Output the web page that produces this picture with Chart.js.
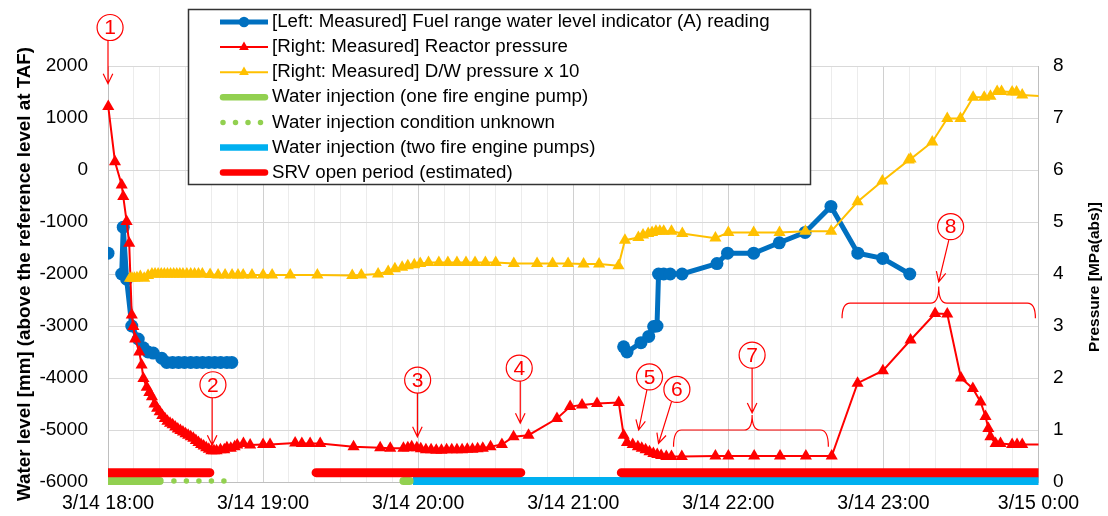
<!DOCTYPE html>
<html>
<head>
<meta charset="utf-8">
<script src="https://cdn.jsdelivr.net/npm/chart.js@4.4.1/dist/chart.umd.min.js"></script>
<style>
  html, body { margin: 0; padding: 0; background: #fff; }
  #chart { display: block; }
</style>
</head>
<body>
<canvas id="chart" width="1108" height="516"></canvas>
<script>
// x values are minutes after 3/14 18:00
const xTickLabels = ['3/14 18:00', '3/14 19:00', '3/14 20:00', '3/14 21:00', '3/14 22:00', '3/14 23:00', '3/15 0:00']

// [Left] fuel range water level indicator (A) [mm], null = no reading
const waterLevel = [
  [0, -1600], [3, null],
  [5.3, -2000], [5.9, -1100], [7.2, -2100], [9.2, -3000], [11.7, -3250], [13.7, -3420],
  [15.5, -3500], [17.5, -3520], [20.8, -3620], [22.7, -3700], [25, -3700], [27.3, -3700],
  [29.6, -3700], [32, -3700], [34.3, -3700], [36.6, -3700], [39, -3700], [41.3, -3700],
  [43.6, -3700], [46, -3700], [47.9, -3700], [60, null],
  [199.5, -3400], [200.8, -3500], [206.2, -3320], [209.2, -3200], [211.1, -3010], [212.4, -3000],
  [213, -2000], [215, -2000], [217.5, -2000], [222.1, -2000], [235.6, -1800], [239.7, -1600],
  [249.8, -1600], [259.7, -1400], [269.7, -1200], [279.7, -700], [290.1, -1600], [299.7, -1700],
  [310.2, -2000]
]

// [Right] reactor pressure [MPa(abs)]
const reactorPressure = [
  [0.1, 7.22], [2.7, 6.16], [5.3, 5.71], [5.9, 5.49], [7.2, 5.01], [8.2, 4.59], [9.2, 3.21],
  [9.8, 2.99], [10.5, 2.75], [12.1, 2.5], [13, 2.25], [13.7, 1.99], [15, 1.82], [16, 1.72],
  [17, 1.64], [18, 1.5], [19, 1.42], [20, 1.35], [21, 1.28], [22, 1.22], [23, 1.17], [24, 1.13],
  [25, 1.1], [26, 1.06], [27, 1.02], [28, 0.99], [29, 0.96], [30, 0.93], [31, 0.9], [32, 0.87],
  [33, 0.84], [34, 0.8], [35, 0.76], [36, 0.72], [37, 0.69], [38, 0.66], [39, 0.63], [40, 0.6],
  [41, 0.6], [42, 0.6], [43.5, 0.62], [45, 0.62], [46, 0.66], [47.5, 0.65], [49, 0.68], [50, 0.71],
  [52.4, 0.74], [55, 0.71], [60, 0.72], [62.7, 0.72], [72.4, 0.75], [75, 0.74], [78.2, 0.74],
  [82.1, 0.74], [95, 0.68], [105.3, 0.66], [109.2, 0.65], [114.3, 0.65], [116, 0.66], [117.5, 0.68],
  [119.5, 0.66], [121, 0.64], [123, 0.62], [125, 0.62], [127, 0.61], [129, 0.61], [131, 0.62],
  [133, 0.62], [135, 0.62], [137, 0.62], [139, 0.63], [141, 0.63], [143, 0.64], [145, 0.65],
  [148, 0.68], [152.4, 0.72], [156.9, 0.87], [162.7, 0.9], [173.7, 1.22], [178.8, 1.45],
  [183.4, 1.48], [189.2, 1.51], [197.6, 1.53], [199.5, 0.9], [200.8, 0.76], [203, 0.72],
  [205, 0.68], [206.5, 0.65], [208, 0.62], [209.5, 0.58], [211, 0.55], [212.5, 0.53], [214, 0.51],
  [216, 0.49], [218, 0.49], [222, 0.49], [235, 0.5], [240, 0.5], [250, 0.5], [260, 0.5],
  [270, 0.5], [280, 0.5], [290, 1.9], [299.8, 2.14], [310.5, 2.73], [320, 3.24], [324.7, 3.23],
  [330, 2.0], [334.6, 1.8], [337.6, 1.54], [339.5, 1.26], [340.6, 1.03], [341.4, 0.87],
  [343.4, 0.74], [345.3, 0.74], [349.8, 0.72], [351.7, 0.72], [353.7, 0.72], [362, 0.72]
]

// [Right] D/W pressure x 10
const dwPressure = [
  [8.5, 3.92], [9.3, 3.92], [10.2, 3.92], [11.2, 3.93], [12.5, 3.95], [14, 3.92], [15.5, 3.97],
  [17, 4.0], [18.2, 4.0], [19.4, 4.0], [20.6, 4.0], [21.8, 4.0], [23, 4.0], [24.2, 4.0],
  [25.4, 4.0], [26.6, 4.0], [27.8, 4.0], [29, 4.0], [30.5, 4.0], [32, 4.0], [33.5, 4.0], [35, 4.0],
  [36.5, 4.0], [39.5, 3.99], [42.6, 3.98], [45.3, 3.98], [48, 3.98], [50.3, 3.98], [52.3, 3.98],
  [55.7, 3.98], [60, 3.98], [63.5, 3.98], [70.5, 3.98], [81, 3.98], [94.5, 3.97], [98, 3.98],
  [104.5, 4.0], [108.4, 4.05], [111, 4.1], [113.8, 4.13], [116, 4.16], [118.5, 4.18], [120.8, 4.2],
  [124, 4.22], [128, 4.22], [131.5, 4.22], [135, 4.22], [138.5, 4.22], [142, 4.22], [146, 4.22],
  [150, 4.22], [157, 4.2], [166, 4.2], [172, 4.2], [178, 4.2], [184, 4.19], [190, 4.19],
  [197.5, 4.16], [200, 4.65], [205.2, 4.7], [207, 4.75], [209, 4.78], [210.5, 4.8], [212, 4.82],
  [213.5, 4.82], [215, 4.82], [218, 4.82], [222.2, 4.78], [235, 4.69], [240, 4.8], [249.8, 4.8],
  [259.8, 4.8], [269.8, 4.82], [279.8, 4.82], [290, 5.39], [299.6, 5.79], [309.8, 6.19],
  [310.5, 6.21], [318.9, 6.54], [324.7, 6.99], [329.8, 6.99], [334.7, 7.4], [339, 7.4],
  [341.4, 7.42], [344, 7.51], [345.7, 7.51], [349.8, 7.5], [351.5, 7.5], [353.7, 7.44], [362, 7.42]
]

// periods drawn as bands near the bottom (right axis units)
const injectionOnePump = [[0, 0.02], [20, 0.02], [20, null], [114.3, 0.02], [116.7, 0.02]]
const injectionUnknown = [[25.5, 0.02], [49.5, 0.02]]
const injectionTwoPumps = [[118, 0.02], [362, 0.02]]
const srvOpen = [[0, 0.18], [39.4, 0.18], [39.4, null], [80.5, 0.18], [159.7, 0.18], [159.7, null], [198.6, 0.18], [362, 0.18]]

const pts = (arr) => arr.map(([x, y]) => ({ x, y }))
const tailHidden = (r) => (ctx) => (ctx.raw && ctx.raw.x > 360 ? 0 : r)

const notesPlugin = {
  id: 'notes',
  afterDatasetsDraw (chart, args, o) {
    const { ctx, scales: { x, y2 } } = chart
    const px = (m) => x.getPixelForValue(m)
    const py = (p) => y2.getPixelForValue(p)
    ctx.save()
    ctx.strokeStyle = o.color
    ctx.fillStyle = o.color
    ctx.lineWidth = 1.2
    o.arrows.forEach(([from, to]) => {
      const fx = px(from[0]); const fy = py(from[1])
      const tx = px(to[0]); const ty = py(to[1])
      const a = Math.atan2(ty - fy, tx - fx)
      ctx.beginPath()
      ctx.moveTo(fx, fy)
      ctx.lineTo(tx, ty)
      ctx.moveTo(tx - 11 * Math.cos(a - 0.45), ty - 11 * Math.sin(a - 0.45))
      ctx.lineTo(tx, ty)
      ctx.lineTo(tx - 11 * Math.cos(a + 0.45), ty - 11 * Math.sin(a + 0.45))
      ctx.stroke()
    })
    o.braces.forEach((b) => {
      const x1 = px(b.x1); const x2 = px(b.x2); const xm = px(b.xm)
      const ye = py(b.yEnd); const yb = py(b.yBar); const yt = py(b.yTip)
      const r = 8
      ctx.beginPath()
      ctx.moveTo(x1, ye)
      ctx.quadraticCurveTo(x1, yb, x1 + r, yb)
      ctx.lineTo(xm - r, yb)
      ctx.quadraticCurveTo(xm, yb, xm, yt)
      ctx.quadraticCurveTo(xm, yb, xm + r, yb)
      ctx.lineTo(x2 - r, yb)
      ctx.quadraticCurveTo(x2, yb, x2, ye)
      ctx.stroke()
    })
    ctx.font = '21px "Liberation Sans", Arial, sans-serif'
    ctx.textAlign = 'center'
    ctx.textBaseline = 'middle'
    o.marks.forEach((m) => {
      const cx = px(m.at[0]); const cy = py(m.at[1])
      ctx.beginPath()
      ctx.arc(cx, cy, 13, 0, Math.PI * 2)
      ctx.stroke()
      ctx.fillText(m.label, cx, cy + 1)
    })
    ctx.restore()
  }
}

const boxLegendPlugin = {
  id: 'boxLegend',
  afterDraw (chart, args, o) {
    const { ctx } = chart
    ctx.save()
    ctx.fillStyle = '#fff'
    ctx.fillRect(o.left, o.top, o.width, o.height)
    ctx.strokeStyle = '#333'
    ctx.lineWidth = 1.5
    ctx.strokeRect(o.left, o.top, o.width, o.height)
    ctx.font = '18.7px "Liberation Sans", Arial, sans-serif'
    ctx.textBaseline = 'middle'
    chart.data.datasets.forEach((ds, i) => {
      const meta = chart.getDatasetMeta(i)
      const lo = meta.dataset.options
      const yy = o.top + o.firstRow + i * o.rowHeight
      const round = lo.borderCapStyle === 'round'
      ctx.beginPath()
      ctx.strokeStyle = lo.borderColor
      ctx.lineWidth = Math.min(lo.borderWidth, o.maxLine)
      ctx.lineCap = lo.borderCapStyle
      ctx.setLineDash(lo.borderDash || [])
      ctx.moveTo(o.symX1 + (round ? 3 : 0), yy)
      ctx.lineTo(o.symX2 - (round ? 3 : 0), yy)
      ctx.stroke()
      ctx.setLineDash([])
      if (ds.pointStyle && meta.data[0]) {
        const po = meta.data[0].options
        ctx.fillStyle = po.backgroundColor
        ctx.strokeStyle = po.borderColor
        Chart.helpers.drawPoint(ctx, { pointStyle: po.pointStyle, radius: po.radius * 0.8, borderWidth: 0, rotation: 0 }, (o.symX1 + o.symX2) / 2, yy)
      }
      ctx.fillStyle = '#000'
      ctx.fillText(ds.label, o.textX, yy)
    })
    ctx.restore()
  }
}

const rightTitlePlugin = {
  id: 'rightTitle',
  afterDraw (chart, args, o) {
    const { ctx } = chart
    ctx.save()
    ctx.translate(o.x, o.y)
    ctx.rotate(-Math.PI / 2)
    ctx.font = 'bold 15.5px "Liberation Sans", Arial, sans-serif'
    ctx.fillStyle = '#000'
    ctx.textAlign = 'center'
    ctx.textBaseline = 'middle'
    ctx.fillText(o.text, 0, 0)
    ctx.restore()
  }
}

Chart.defaults.font.family = '"Liberation Sans", Arial, sans-serif'
Chart.defaults.color = '#000'

const thinClip = { left: 8, top: 8, right: 0, bottom: 8 }
const bandClip = { left: 0, top: false, right: 0, bottom: false }

// eslint-disable-next-line no-new
new Chart(document.getElementById('chart'), {
  type: 'line',
  data: {
    datasets: [
      {
        label: '[Left: Measured] Fuel range water level indicator (A) reading',
        data: pts(waterLevel),
        yAxisID: 'y',
        borderColor: '#0070C0',
        backgroundColor: '#0070C0',
        borderWidth: 5,
        pointStyle: 'circle',
        pointRadius: 6.5,
        pointBorderWidth: 0,
        spanGaps: false,
        order: 3
      },
      {
        label: '[Right: Measured] Reactor pressure',
        data: pts(reactorPressure),
        yAxisID: 'y2',
        borderColor: '#FF0000',
        backgroundColor: '#FF0000',
        borderWidth: 2,
        pointStyle: 'triangle',
        pointRadius: tailHidden(7),
        pointBorderWidth: 0,
        clip: thinClip,
        order: 2
      },
      {
        label: '[Right: Measured] D/W pressure x 10',
        data: pts(dwPressure),
        yAxisID: 'y2',
        borderColor: '#FFC000',
        backgroundColor: '#FFC000',
        borderWidth: 2,
        pointStyle: 'triangle',
        pointRadius: tailHidden(7),
        pointBorderWidth: 0,
        clip: thinClip,
        order: 1
      },
      {
        label: 'Water injection (one fire engine pump)',
        data: pts(injectionOnePump),
        yAxisID: 'y2',
        borderColor: '#92D050',
        borderWidth: 8,
        borderCapStyle: 'round',
        pointRadius: 0,
        clip: bandClip,
        order: 6
      },
      {
        label: 'Water injection condition unknown',
        data: pts(injectionUnknown),
        yAxisID: 'y2',
        borderColor: '#92D050',
        borderWidth: 5.5,
        borderCapStyle: 'round',
        borderDash: [0, 12.5],
        pointRadius: 0,
        clip: bandClip,
        order: 7
      },
      {
        label: 'Water injection (two fire engine pumps)',
        data: pts(injectionTwoPumps),
        yAxisID: 'y2',
        borderColor: '#00B0F0',
        borderWidth: 8,
        borderCapStyle: 'butt',
        pointRadius: 0,
        clip: bandClip,
        order: 8
      },
      {
        label: 'SRV open period (estimated)',
        data: pts(srvOpen),
        yAxisID: 'y2',
        borderColor: '#FF0000',
        borderWidth: 9,
        borderCapStyle: 'round',
        pointRadius: 0,
        clip: bandClip,
        order: 5
      }
    ]
  },
  options: {
    responsive: false,
    animation: false,
    events: [],
    layout: { padding: { top: 66, left: 0, right: 0, bottom: 0 } },
    elements: { line: { tension: 0 } },
    plugins: {
      legend: { display: false },
      tooltip: { enabled: false },
      boxLegend: { left: 188.5, top: 9.5, width: 622, height: 175, firstRow: 12.5, rowHeight: 25.1, symX1: 220, symX2: 268, textX: 272, maxLine: 6.5 },
      rightTitle: { text: 'Pressure [MPa(abs)]', x: 1095, y: 277 },
      notes: {
        color: '#FF0000',
        marks: [
          { label: '1', at: [0.8, 8.74] },
          { label: '2', at: [40.6, 1.87] },
          { label: '3', at: [119.8, 1.96] },
          { label: '4', at: [159.1, 2.19] },
          { label: '5', at: [209.5, 2.02] },
          { label: '6', at: [220.1, 1.78] },
          { label: '7', at: [249.2, 2.44] },
          { label: '8', at: [326, 4.91] }
        ],
        arrows: [
          [[0, 8.48], [0, 7.66]],
          [[40.3, 1.62], [40.3, 0.71]],
          [[119.7, 1.71], [119.7, 0.87]],
          [[159.5, 1.94], [159.5, 1.13]],
          [[208.5, 1.77], [205.3, 1.0]],
          [[218, 1.54], [213, 0.74]],
          [[249.2, 2.19], [249.2, 1.33]],
          [[325.3, 4.65], [321.4, 3.85]]
        ],
        braces: [
          { x1: 218.8, x2: 278.7, xm: 249.2, yEnd: 0.68, yBar: 1.0, yTip: 1.29 },
          { x1: 284, x2: 358.8, xm: 321.4, yEnd: 3.15, yBar: 3.44, yTip: 3.76 }
        ]
      }
    },
    scales: {
      x: {
        type: 'linear',
        min: 0,
        max: 360,
        ticks: {
          stepSize: 10,
          autoSkip: false,
          maxRotation: 0,
          minRotation: 0,
          padding: 10,
          font: { size: 19.5 },
          callback: (v) => (v % 60 === 0 ? xTickLabels[v / 60] : '')
        },
        grid: {
          drawTicks: false,
          color: (ctx) => (ctx.tick && ctx.tick.value % 60 === 0 ? '#d0d0d0' : '#ececec')
        },
        border: { color: '#bfbfbf' },
        afterFit: (s) => { s.height = 34 }
      },
      y: {
        position: 'left',
        min: -6000,
        max: 2000,
        ticks: { stepSize: 1000, padding: 20, font: { size: 19 }, callback: (v) => String(v) },
        grid: { drawTicks: false, color: '#d9d9d9' },
        border: { color: '#bfbfbf' },
        title: {
          display: true,
          text: 'Water level [mm] (above the reference level at TAF)',
          font: { size: 18.8, weight: 'bold' },
          padding: { top: 14, bottom: 0 }
        },
        afterFit: (s) => { s.width = 108 }
      },
      y2: {
        position: 'right',
        min: 0,
        max: 8,
        ticks: { stepSize: 1, padding: 14.5, font: { size: 19 } },
        grid: { display: false, drawTicks: false },
        border: { color: '#bfbfbf' },
        afterFit: (s) => { s.width = 69.5 }
      }
    }
  },
  plugins: [notesPlugin, boxLegendPlugin, rightTitlePlugin]
})
</script>
</body>
</html>
